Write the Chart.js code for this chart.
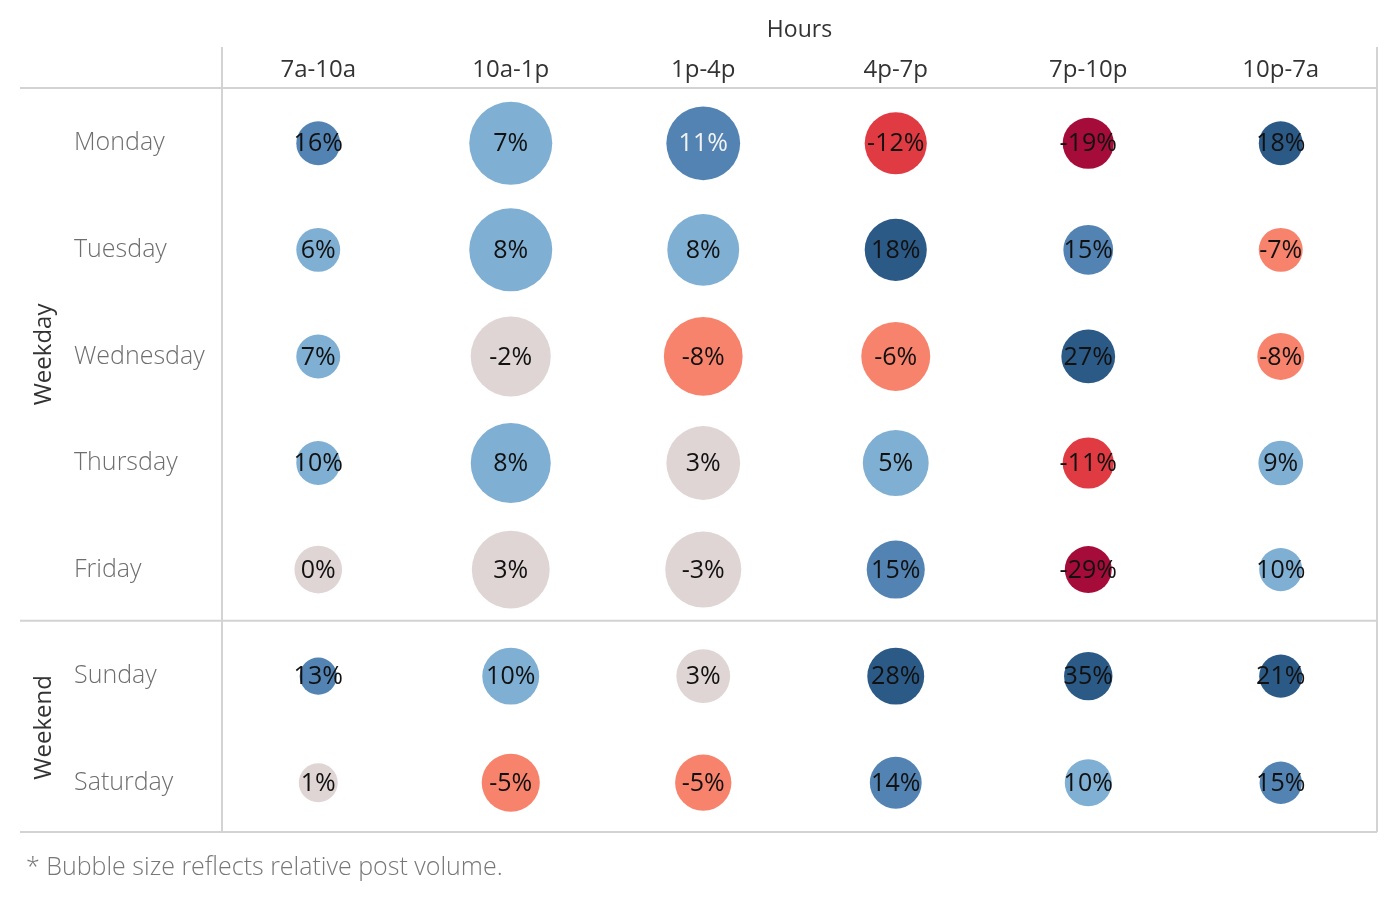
<!DOCTYPE html>
<html>
<head>
<meta charset="utf-8">
<script src="https://cdn.jsdelivr.net/npm/chart.js@4.4.1/dist/chart.umd.min.js"></script>
<style>
  html, body { margin: 0; padding: 0; background: #ffffff; overflow: hidden; }
  canvas { display: block; }
</style>
</head>
<body>
<canvas id="c" width="1400" height="900" style="width:1400px;height:900px"></canvas>
<script>
// ---- Data ----
const hours = ['7a-10a', '10a-1p', '1p-4p', '4p-7p', '7p-10p', '10p-7a'];
const days = ['Monday', 'Tuesday', 'Wednesday', 'Thursday', 'Friday', 'Sunday', 'Saturday'];
const groups = [
  { name: 'Weekday', first: 0, last: 4 },
  { name: 'Weekend', first: 5, last: 6 }
];

// % change per day, by hour block
const changeMonday    = [16, 7, 11, -12, -19, 18];
const changeTuesday   = [6, 8, 8, 18, 15, -7];
const changeWednesday = [7, -2, -8, -6, 27, -8];
const changeThursday  = [10, 8, 3, 5, -11, 9];
const changeFriday    = [0, 3, -3, 15, -29, 10];
const changeSunday    = [13, 10, 3, 28, 35, 21];
const changeSaturday  = [1, -5, -5, 14, 10, 15];

// relative post volume (index, max = 100), by hour block
const volumeMonday    = [28, 100, 79, 56, 38, 28];
const volumeTuesday   = [28, 100, 75, 56, 36, 28];
const volumeWednesday = [28, 93, 90, 69, 42, 32];
const volumeThursday  = [28, 93, 79, 63, 38, 29];
const volumeFriday    = [33, 88, 84, 49, 32, 27];
const volumeSunday    = [20, 47, 42, 47, 34, 27];
const volumeSaturday  = [22, 49, 46, 39, 32, 26];

const changeRows = [changeMonday, changeTuesday, changeWednesday, changeThursday, changeFriday, changeSunday, changeSaturday];
const volumeRows = [volumeMonday, volumeTuesday, volumeWednesday, volumeThursday, volumeFriday, volumeSunday, volumeSaturday];

const footnote = '* Bubble size reflects relative post volume.';

// ---- Styling helpers ----
const MAX_R = 41.5;
function radiusFor(vol) { return MAX_R * Math.sqrt(vol / 100); }
function colorFor(v) {
  if (v >= 17) return '#2c5a86';
  if (v >= 11) return '#5283b2';
  if (v >= 4) return '#7fafd3';
  if (v >= -3) return '#dfd5d4';
  if (v >= -9) return '#f8836c';
  if (v >= -15) return '#e03b42';
  return '#a60c3a';
}

const points = [];
days.forEach((d, di) => {
  hours.forEach((h, hi) => {
    points.push({ x: h, y: d, r: radiusFor(volumeRows[di][hi]), v: changeRows[di][hi], di: di, hi: hi });
  });
});

// bubbles sit inside table cells: no extra layout margin for bubble overflow
Chart.BubbleController.prototype.getMaxOverflow = function () { return false; };

const FONT = '"Open Sans", "Noto Sans", sans-serif';
const LINE = '#d3d3d3';

const tablePlugin = {
  id: 'tableDecor',
  beforeDatasetsDraw(chart) {
    const ctx = chart.ctx;
    const a = chart.chartArea;
    const ys = chart.scales.y;
    const sepY = (ys.getPixelForValue(4) + ys.getPixelForValue(5)) / 2 - 2;
    const topY = a.top - 2, botY = a.bottom - 4;
    ctx.save();
    ctx.strokeStyle = LINE;
    ctx.lineWidth = 2;
    ctx.beginPath();
    [topY, sepY, botY].forEach(y => {
      ctx.moveTo(20, y); ctx.lineTo(a.right, y);
    });
    ctx.moveTo(a.left, 47); ctx.lineTo(a.left, botY);
    ctx.moveTo(a.right, 47); ctx.lineTo(a.right, botY);
    ctx.stroke();
    ctx.restore();
  },
  afterDatasetsDraw(chart) {
    const ctx = chart.ctx;
    const ys = chart.scales.y;
    const meta = chart.getDatasetMeta(0);
    ctx.save();
    ctx.textAlign = 'center';
    ctx.textBaseline = 'middle';
    ctx.font = '400 25px ' + FONT;
    meta.data.forEach((el, i) => {
      const p = points[i];
      ctx.fillStyle = (p.di === 0 && p.hi === 2) ? '#f2f2f2' : '#111111';
      ctx.fillText(p.v + '%', el.x, el.y + 1);
    });
    // group labels
    const step = ys.getPixelForValue(1) - ys.getPixelForValue(0);
    ctx.font = '500 24px ' + FONT;
    ctx.fillStyle = '#333333';
    groups.forEach(g => {
      const top = ys.getPixelForValue(g.first) - step / 2;
      const bot = ys.getPixelForValue(g.last) + step / 2;
      ctx.save();
      ctx.translate(44, (top + bot) / 2 - 2);
      ctx.rotate(-Math.PI / 2);
      ctx.fillText(g.name, 0, 0);
      ctx.restore();
    });
    // footnote
    ctx.textAlign = 'left';
    ctx.font = '300 25px ' + FONT;
    ctx.fillStyle = '#777777';
    ctx.fillText(footnote, 26, 868);
    ctx.restore();
  }
};

new Chart(document.getElementById('c'), {
  type: 'bubble',
  data: {
    datasets: [{
      data: points,
      backgroundColor: ctx => colorFor(ctx.raw ? ctx.raw.v : 0),
      borderWidth: 0,
      hoverRadius: 0,
      clip: false
    }]
  },
  options: {
    responsive: false,
    devicePixelRatio: 1,
    animation: false,
    events: [],
    layout: { padding: { left: 74, right: 23, top: 0, bottom: 64 } },
    plugins: { legend: { display: false }, tooltip: { enabled: false }, title: { display: false } },
    scales: {
      x: {
        type: 'category',
        labels: hours,
        position: 'top',
        offset: true,
        grid: { display: false, drawTicks: false },
        border: { display: false },
        ticks: { color: '#333333', font: { family: FONT, size: 24, weight: '400' }, padding: 5, maxRotation: 0, autoSkip: false },
        title: { display: true, text: 'Hours', color: '#333333', font: { family: FONT, size: 23, weight: '400' }, padding: { top: 17, bottom: 0 } },
        afterFit(scale) { scale.height = 90; scale.paddingLeft = 0; scale.paddingRight = 0; }
      },
      y: {
        type: 'category',
        labels: days,
        offset: true,
        grid: { display: false, drawTicks: false },
        border: { display: false },
        ticks: { color: '#6e6e6e', crossAlign: 'far', font: { family: FONT, size: 25, weight: '300' }, padding: 0, autoSkip: false },
        afterFit(scale) { scale.width = 148; scale.paddingTop = 0; scale.paddingBottom = 0; }
      }
    }
  },
  plugins: [tablePlugin]
});
</script>
</body>
</html>
